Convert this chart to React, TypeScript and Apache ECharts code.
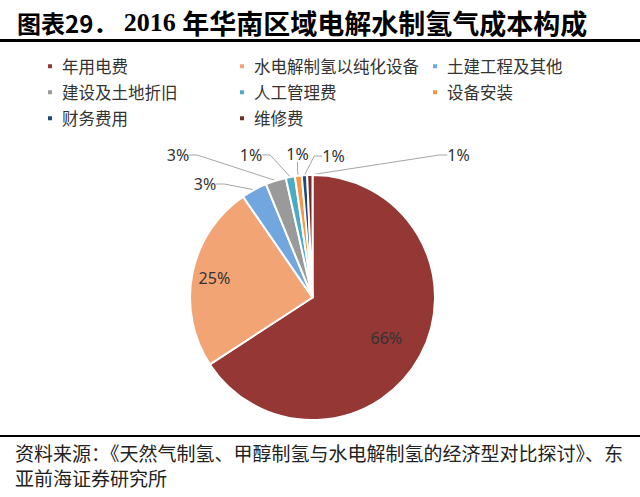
import React, { useEffect, useRef } from "react";
import * as echarts from "echarts";

const categories = [
  "年用电费",
  "水电解制氢以纯化设备",
  "土建工程及其他",
  "建设及土地折旧",
  "人工管理费",
  "设备安装",
  "财务费用",
  "维修费",
];
const values = [65.8, 24.6, 3.4, 2.7, 1.2, 0.9, 0.7, 0.7];
const colors = ["#953735", "#F2A474", "#71A7DE", "#9A9A9A", "#4BACC6", "#F79646", "#1F497D", "#772C2A"];

const legendCols = [
  ["年用电费", "建设及土地折旧", "财务费用"],
  ["水电解制氢以纯化设备", "人工管理费", "维修费"],
  ["土建工程及其他", "设备安装"],
];
const legendLefts = [46, 238, 431];

// label placement (layout styling) for the outside labels of the small slices
const outsideLabelPos: Record<number, [number, number]> = {
  2: [205, 184],
  3: [178, 155],
  4: [251, 155],
  5: [297.5, 154],
  6: [333.5, 156],
  7: [458.5, 155],
};

const CX = 312.5;
const CY = 297.5;
const R = 122.5;

const pctFmt = (p: any) => Math.round(p.percent) + "%";
const labelFont = { fontFamily: "Noto Sans", fontSize: 16, color: "#333" };

export default function App() {
  const ref = useRef<HTMLDivElement>(null);
  useEffect(() => {
    if (!ref.current) return;
    const chart = echarts.init(ref.current, undefined, { renderer: "svg" });
    const baseData = categories.map((name, i) => ({ name, value: values[i] }));

    const overlay = (showIdx: number, radius: number) => ({
      type: "pie",
      center: [CX, CY],
      radius: [0, radius],
      startAngle: 90,
      silent: true,
      avoidLabelOverlap: false,
      emphasis: { disabled: true },
      itemStyle: { color: "rgba(0,0,0,0)", borderWidth: 0 },
      labelLine: { show: false },
      label: { show: false },
      data: baseData.map((d, i) => ({
        ...d,
        label: i === showIdx ? { show: true, position: "inside", formatter: pctFmt, ...labelFont } : { show: false },
      })),
      z: 5,
    });

    chart.setOption({
      animation: false,
      color: colors,
      legend: legendCols.map((col, ci) => ({
        orient: "vertical",
        left: legendLefts[ci],
        top: 58,
        padding: 0,
        itemWidth: 6,
        itemHeight: 6,
        itemGap: 9.5,
        icon: "rect",
        selectedMode: false,
        data: col,
        textStyle: {
          fontFamily: "Noto Sans CJK SC",
          fontSize: 16.5,
          lineHeight: 16,
          color: "#333",
          padding: [0, 0, 0, 4],
        },
      })),
      title: {
        left: 17,
        top: 9,
        padding: 0,
        text: "{a|图表29．}{b| 2016 }{c|年华南区域电解水制氢气成本构成}",
        textStyle: {
          rich: {
            a: { fontFamily: "Noto Sans CJK SC", fontWeight: "bold", fontSize: 24, color: "#000" },
            b: { fontFamily: "Liberation Serif", fontWeight: "bold", fontSize: 26, color: "#000" },
            c: { fontFamily: "Noto Sans CJK SC", fontWeight: "bold", fontSize: 27, color: "#000" },
          },
        },
      },
      graphic: [
        { type: "rect", shape: { x: 0, y: 39, width: 640, height: 3 }, style: { fill: "#000" } },
        { type: "rect", shape: { x: 0, y: 435, width: 640, height: 2 }, style: { fill: "#000" } },
        {
          type: "text",
          x: 15,
          y: 452,
          style: {
            text: "资料来源：《天然气制氢、甲醇制氢与水电解制氢的经济型对比探讨》、东",
            font: '19px "Noto Sans CJK SC"',
            lineHeight: 20,
            fill: "#222",
            verticalAlign: "middle",
          },
        },
        {
          type: "text",
          x: 15,
          y: 477,
          style: {
            text: "亚前海证券研究所",
            font: '19px "Noto Sans CJK SC"',
            lineHeight: 20,
            fill: "#222",
            verticalAlign: "middle",
          },
        },
      ],
      series: [
        {
          type: "pie",
          center: [CX, CY],
          radius: [0, R],
          startAngle: 90,
          avoidLabelOverlap: false,
          itemStyle: { borderColor: "#fff", borderWidth: 2 },
          label: { show: true, position: "outside", formatter: pctFmt, ...labelFont },
          labelLine: { show: true, length: 8, length2: 8, lineStyle: { color: "#A6A6A6", width: 1 } },
          labelLayout: (p: any) => {
            const pos = outsideLabelPos[p.dataIndex];
            if (!pos) return {};
            return { x: pos[0], y: pos[1], align: "center", verticalAlign: "middle" };
          },
          data: baseData.map((d, i) => ({
            ...d,
            label: i < 2 ? { show: false } : undefined,
            labelLine: i < 2 ? { show: false } : undefined,
          })),
          z: 2,
        },
        overlay(0, 162),
        overlay(1, 194),
      ],
    });
    return () => chart.dispose();
  }, []);
  return <div ref={ref} style={{ position: "absolute", left: 0, top: 0, width: 640, height: 497, background: "#fff" }} />;
}
